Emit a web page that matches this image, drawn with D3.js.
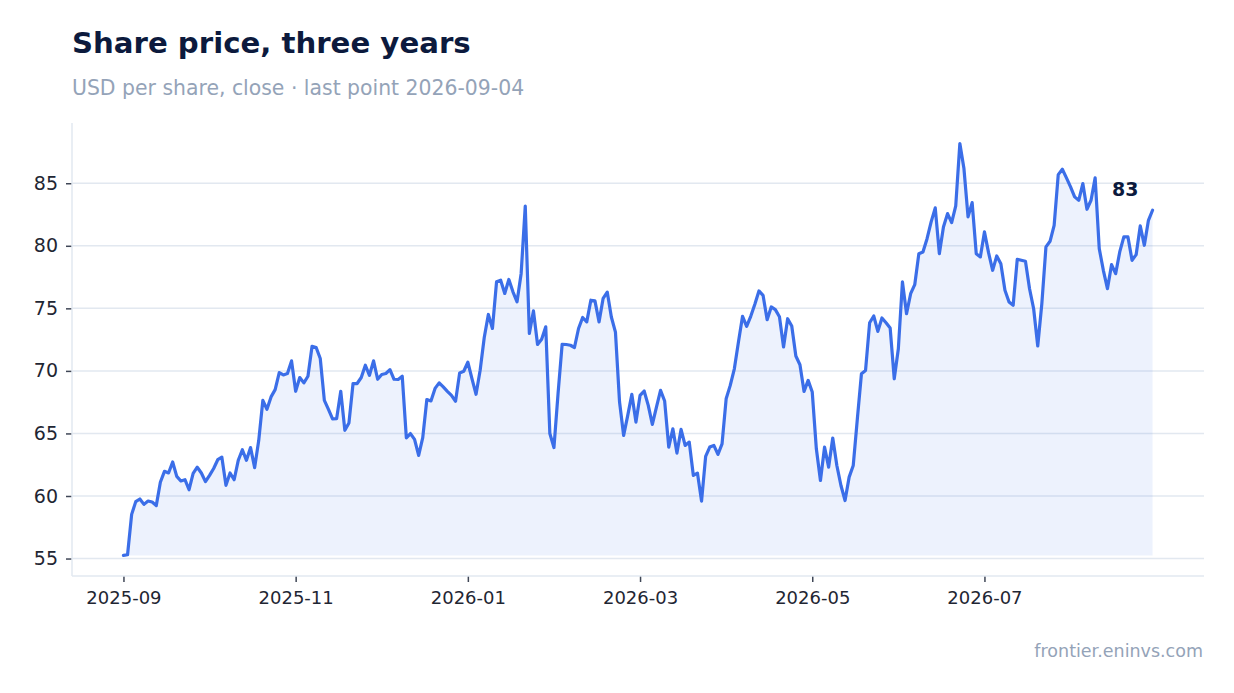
<!DOCTYPE html>
<html>
<head>
<meta charset="utf-8">
<script src="https://cdn.jsdelivr.net/npm/d3@7"></script>
<style>
  body { margin: 0; background: #fff; }
  text { font-family: "DejaVu Sans", sans-serif; }
</style>
</head>
<body>
<div id="chart"></div>
<script>
// closing prices, one per trading day, oldest first
const closePrices = [
  55.25, 55.3, 58.53, 59.55, 59.76, 59.33, 59.6, 59.52, 59.23, 61.1,
  61.97, 61.84, 62.72, 61.57, 61.2, 61.3, 60.5, 61.8, 62.3, 61.84,
  61.15, 61.65, 62.2, 62.9, 63.1, 60.85, 61.84, 61.3, 62.85, 63.7,
  62.85, 63.87, 62.27, 64.45, 67.65, 66.93, 67.92, 68.5, 69.87, 69.68,
  69.79, 70.8, 68.37, 69.47, 69.04, 69.57, 71.97, 71.87, 70.99, 67.65,
  66.93, 66.16, 66.19, 68.37, 65.25, 65.84, 68.99, 68.99, 69.47, 70.45,
  69.65, 70.8, 69.33, 69.71, 69.79, 70.1, 69.33, 69.31, 69.57, 64.64,
  64.99, 64.53, 63.25, 64.67, 67.71, 67.6,
  68.6, 69.04, 68.72, 68.37, 68.05, 67.57, 69.84, 69.97, 70.69, 69.39,
  68.13, 70.05, 72.67, 74.51, 73.39, 77.12, 77.25, 76.19, 77.31, 76.32,
  75.52, 77.79, 83.17, 72.99, 74.8, 72.11, 72.53, 73.52, 64.99, 63.87,
  68.19, 72.13, 72.11, 72.05, 71.87, 73.39, 74.27, 73.92, 75.65, 75.6,
  73.92, 75.8,
  76.3, 74.31, 73.1, 67.51, 64.84, 66.44, 68.12, 65.91, 68.04, 68.39,
  67.24, 65.72, 67.11, 68.44, 67.59, 63.91, 65.37, 63.43, 65.32, 64.04,
  64.31, 61.64, 61.83, 59.59, 63.16, 63.91, 64.04, 63.32, 64.17, 67.77,
  68.84, 70.17, 72.31, 74.36, 73.56, 74.36, 75.32, 76.39, 76.04, 74.09,
  75.11, 74.9, 74.33,
  71.91, 74.17, 73.59, 71.19, 70.49, 68.36, 69.24, 68.31, 63.77, 61.24,
  63.91, 62.31, 64.63, 62.44, 60.84, 59.64, 61.51, 62.44, 66.17, 69.77,
  70.04, 73.85, 74.39, 73.16, 74.23, 73.85, 73.43, 69.37, 71.77, 77.11,
  74.57, 76.17, 76.89, 79.37, 79.51, 80.57, 81.91, 83.03, 79.37, 81.51,
  82.57, 81.85, 83.2,
  88.17, 86.17, 82.31, 83.45, 79.37, 79.11, 81.11, 79.45, 78.04, 79.19,
  78.57, 76.44, 75.51, 75.24, 78.92, 78.84, 78.76, 76.57, 74.97, 71.99,
  75.37, 79.91, 80.36, 81.64, 85.69, 86.12, 85.43, 84.71, 83.91, 83.64,
  84.97, 82.92, 83.64, 85.43, 79.77, 78.04, 76.57, 78.49, 77.77, 79.51,
  80.71, 80.71, 78.84, 79.29, 81.59, 80.04, 82.04, 82.84
];

// x axis labels, one every 42 trading days
const monthLabels = ["2025-09", "2025-11", "2026-01", "2026-03", "2026-05", "2026-07"];
const tickStep = 42;

// y axis ticks
const priceTicks = [55, 60, 65, 70, 75, 80, 85];

const titleText = "Share price, three years";
const subtitleText = "USD per share, close · last point 2026-09-04";
const sourceText = "frontier.eninvs.com";

const W = 1234, H = 693;
const margin = {top: 123, right: 30, bottom: 117, left: 72},
    width = W - margin.left - margin.right,
    height = H - margin.top - margin.bottom;

const lineColor = "#3b6ee8";
const gridColor = "#e2e8f0";

const svg = d3.select("#chart")
  .append("svg")
  .attr("width", W)
  .attr("height", H);

// titles
svg.append("text")
  .attr("x", 72)
  .attr("y", 53)
  .style("font-size", "29.2px")
  .style("font-weight", 700)
  .attr("fill", "#0c1a3d")
  .text(titleText);

svg.append("text")
  .attr("x", 72)
  .attr("y", 95)
  .style("font-size", "20.4px")
  .attr("fill", "#94a3b8")
  .text(subtitleText);

svg.append("text")
  .attr("x", 1203)
  .attr("y", 657)
  .attr("text-anchor", "end")
  .style("font-size", "17.5px")
  .attr("fill", "#94a3b8")
  .text(sourceText);

const g = svg.append("g")
  .attr("transform", `translate(${margin.left},${margin.top})`);

// scales, 5% padding on both ends like the original
const n = closePrices.length;
const padX = (n - 1) * 0.05;
const x = d3.scaleLinear()
  .domain([-padX, (n - 1) + padX])
  .range([0, width]);

const yMin = d3.min(closePrices), yMax = d3.max(closePrices);
const padY = (yMax - yMin) * 0.05;
const y = d3.scaleLinear()
  .domain([yMin - padY, yMax + padY])
  .range([height, 0]);

// gridlines
g.append("g")
  .selectAll("line")
  .data(priceTicks)
  .join("line")
    .attr("x1", 0)
    .attr("x2", width)
    .attr("y1", d => y(d))
    .attr("y2", d => y(d))
    .attr("stroke", gridColor)
    .attr("stroke-width", 1.5);

// area under the line, down to the lowest close
const area = d3.area()
  .x((d, i) => x(i))
  .y0(y(yMin))
  .y1(d => y(d));

g.append("path")
  .datum(closePrices)
  .attr("d", area)
  .attr("fill", lineColor)
  .attr("fill-opacity", 0.09);

const line = d3.line()
  .x((d, i) => x(i))
  .y(d => y(d));

g.append("path")
  .datum(closePrices)
  .attr("d", line)
  .attr("fill", "none")
  .attr("stroke", lineColor)
  .attr("stroke-width", 3.2)
  .attr("stroke-linejoin", "round")
  .attr("stroke-linecap", "round");

// axes
const yAxis = g.append("g")
  .call(d3.axisLeft(y).tickValues(priceTicks).tickSize(6).tickPadding(8));

const xAxis = g.append("g")
  .attr("transform", `translate(0,${height})`)
  .call(d3.axisBottom(x)
    .tickValues(monthLabels.map((m, i) => i * tickStep))
    .tickFormat((d, i) => monthLabels[i])
    .tickSize(6)
    .tickPadding(9));

[yAxis, xAxis].forEach(ax => {
  ax.select(".domain").remove();
  ax.selectAll(".tick line").attr("stroke", "#3f4656").attr("stroke-width", 1.5);
  ax.selectAll(".tick text")
    .attr("fill", "#1f2633")
    .style("font-family", "DejaVu Sans")
    .style("font-size", "18px");
});
yAxis.selectAll(".tick text").style("font-size", "19px");

// light axis lines
g.append("line")
  .attr("x1", 0).attr("x2", 0)
  .attr("y1", 0).attr("y2", height)
  .attr("stroke", gridColor)
  .attr("stroke-width", 1.5);
g.append("line")
  .attr("x1", 0).attr("x2", width)
  .attr("y1", height).attr("y2", height)
  .attr("stroke", gridColor)
  .attr("stroke-width", 1.5);

// last value label
const lastVal = closePrices[n - 1];
g.append("text")
  .attr("x", x(n - 1) - 14)
  .attr("y", y(lastVal) - 14)
  .attr("text-anchor", "end")
  .style("font-size", "19px")
  .style("font-weight", 700)
  .attr("fill", "#0c1a3d")
  .text(d3.format(".0f")(lastVal));
</script>
</body>
</html>
